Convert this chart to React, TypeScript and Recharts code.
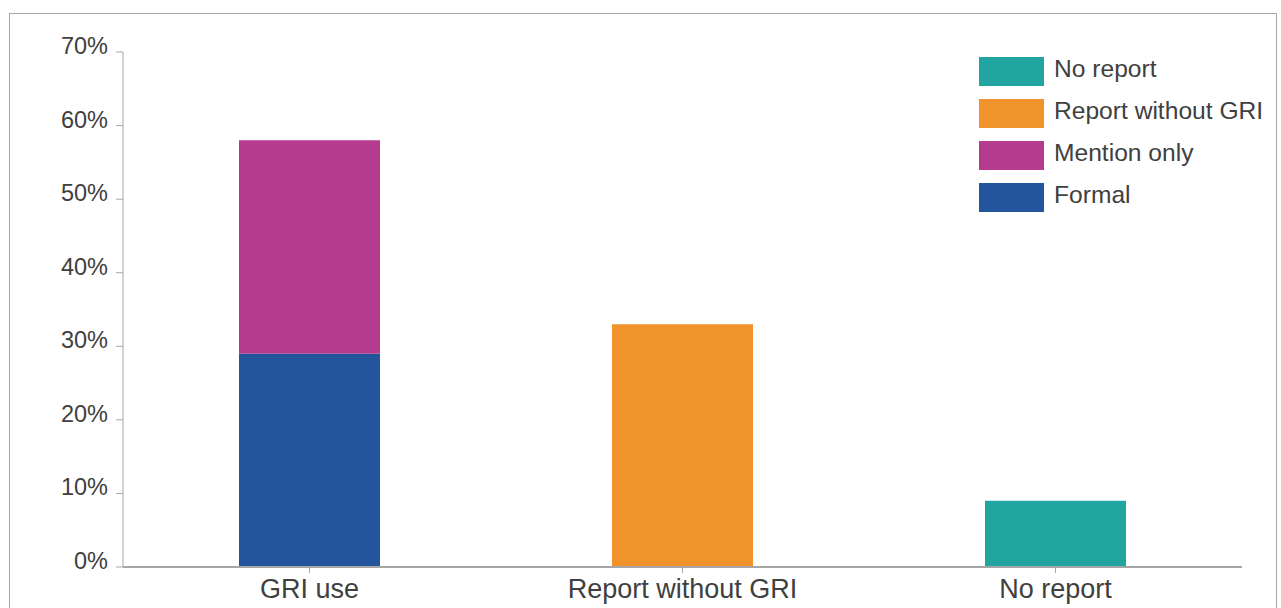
import React from 'react';
import { BarChart, Bar, XAxis, YAxis, Legend } from 'recharts';

const categories = ['GRI use', 'Report without GRI', 'No report'];
const formal = [29, 0, 0];
const mentionOnly = [29, 0, 0];
const reportWithoutGri = [0, 33, 0];
const noReport = [0, 0, 9];
const yTicks = [0, 10, 20, 30, 40, 50, 60, 70];

const data = categories.map((name, i) => ({
  name,
  formal: formal[i],
  mention: mentionOnly[i],
  without: reportWithoutGri[i],
  none: noReport[i],
}));

// legend order as in the source (top to bottom)
const legendItems = [
  { label: 'No report', color: '#21A5A0' },
  { label: 'Report without GRI', color: '#F0932A' },
  { label: 'Mention only', color: '#B43B8D' },
  { label: 'Formal', color: '#23559D' },
];

const font = '"Liberation Sans", Arial, sans-serif';
const textColor = '#404040';
const axisColor = '#a6a6a6';

const YTick = (props: any) => {
  const { x, y, payload } = props;
  return (
    <text x={x} y={y + 2} textAnchor="end" fill={textColor} fontSize={23.5} fontFamily={font}>
      {payload.value}%
    </text>
  );
};

const XTick = (props: any) => {
  const { x, y, payload } = props;
  return (
    <text x={x} y={y + 25} textAnchor="middle" fill={textColor} fontSize={27} fontFamily={font}>
      {payload.value}
    </text>
  );
};

const LegendBox = () => (
  <div style={{ fontFamily: font }}>
    {legendItems.map((it) => (
      <div key={it.label} style={{ display: 'flex', alignItems: 'center', height: 29, marginBottom: 13 }}>
        <div style={{ width: 65, height: 29, background: it.color }} />
        <span style={{ marginLeft: 10, fontSize: 24.6, color: textColor, whiteSpace: 'nowrap', position: 'relative', top: -3 }}>
          {it.label}
        </span>
      </div>
    ))}
  </div>
);

const App: React.FC = () => {
  return (
    <div
      style={{
        position: 'fixed',
        left: 9,
        top: 13,
        width: 1268,
        height: 600,
        border: `1px solid ${axisColor}`,
        boxSizing: 'border-box',
        background: '#fff',
      }}
    >
      <BarChart
        width={1266}
        height={593}
        data={data}
        margin={{ top: 38, right: 34, bottom: 0, left: 13 }}
      >
        <XAxis
          dataKey="name"
          height={40}
          tick={<XTick />}
          tickSize={6}
          tickMargin={0}
          axisLine={{ stroke: axisColor, strokeWidth: 2 }}
          tickLine={{ stroke: axisColor }}
        />
        <YAxis
          width={100}
          domain={[0, 70]}
          ticks={yTicks}
          interval={0}
          tick={<YTick />}
          tickSize={7}
          tickMargin={8}
          axisLine={{ stroke: axisColor }}
          tickLine={{ stroke: axisColor }}
        />
        <Legend
          layout="horizontal"
          verticalAlign="middle"
          content={<LegendBox />}
          wrapperStyle={{ top: 43, left: 969, width: 300 }}
        />
        <Bar dataKey="formal" stackId="a" fill="#23559D" barSize={141} isAnimationActive={false} />
        <Bar dataKey="mention" stackId="a" fill="#B43B8D" barSize={141} isAnimationActive={false} />
        <Bar dataKey="without" stackId="a" fill="#F0932A" barSize={141} isAnimationActive={false} />
        <Bar dataKey="none" stackId="a" fill="#21A5A0" barSize={141} isAnimationActive={false} />
      </BarChart>
    </div>
  );
};

export default App;
